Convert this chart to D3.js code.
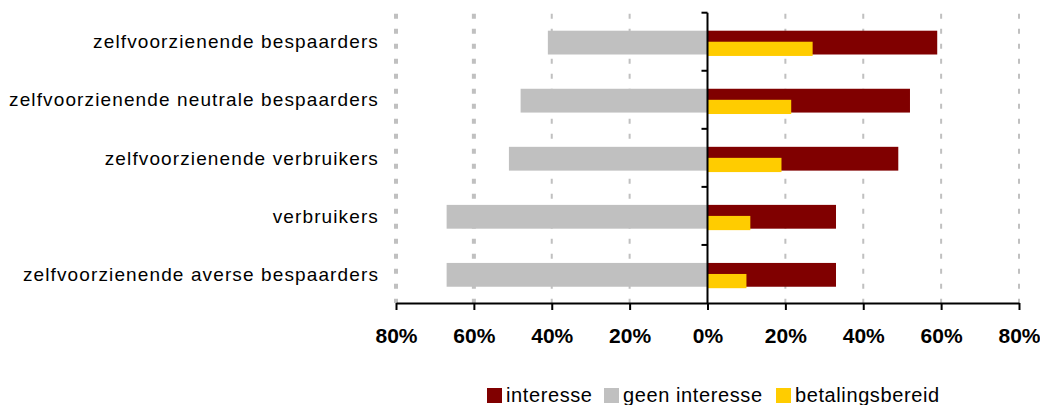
<!DOCTYPE html>
<html>
<head>
<meta charset="utf-8">
<script src="https://cdn.jsdelivr.net/npm/d3@7"></script>
<style>
  html, body { margin: 0; padding: 0; background: #fff; }
  svg { display: block; font-family: "Liberation Sans", Arial, sans-serif; }
</style>
</head>
<body>
<svg id="chart" width="1040" height="405"></svg>
<script>
// Segments, top to bottom
const categories = [
  "zelfvoorzienende bespaarders",
  "zelfvoorzienende neutrale bespaarders",
  "zelfvoorzienende verbruikers",
  "verbruikers",
  "zelfvoorzienende averse bespaarders"
];
// Shares in percent
const interesse      = [59, 52, 49, 33, 33];
const geenInteresse  = [41, 48, 51, 67, 67];
const betalingsbereid = [27, 21.5, 19, 11, 10];
const tickValues = [-80, -60, -40, -20, 0, 20, 40, 60, 80];
const seriesNames = ["interesse", "geen interesse", "betalingsbereid"];
const colors = { interesse: "#800000", geen: "#c0c0c0", betaling: "#ffcc00" };

const svg = d3.select("#chart");

const x = d3.scaleLinear().domain([-80, 80]).range([396, 1019]);
const y = d3.scaleBand().domain(categories).range([12.7, 303]).padding(0);
const bw = y.bandwidth();

// Dashed vertical gridlines
svg.append("g")
  .selectAll("line")
  .data(tickValues.filter(d => d !== 0))
  .join("line")
  .attr("x1", d => x(d)).attr("x2", d => x(d))
  .attr("y1", 12.7).attr("y2", 303)
  .attr("stroke", "#c0c0c0")
  .attr("stroke-width", d => d <= -60 ? 4 : 2)
  .attr("stroke-dasharray", "5,10")
  .attr("stroke-dashoffset", -1);

const rows = categories.map((c, i) => ({
  cat: c, pos: interesse[i], neg: geenInteresse[i], pay: betalingsbereid[i]
}));

// No-interest bars to the left of zero
svg.append("g").selectAll("rect")
  .data(rows).join("rect")
  .attr("x", d => x(-d.neg))
  .attr("width", d => x(0) - x(-d.neg))
  .attr("y", d => y(d.cat) + bw * 0.31)
  .attr("height", bw * 0.41)
  .attr("fill", colors.geen);

// Interest bars to the right of zero
svg.append("g").selectAll("rect")
  .data(rows).join("rect")
  .attr("x", x(0))
  .attr("width", d => x(d.pos) - x(0))
  .attr("y", d => y(d.cat) + bw * 0.31)
  .attr("height", bw * 0.41)
  .attr("fill", colors.interesse);

// Willingness-to-pay bars, overlaid on the lower half
svg.append("g").selectAll("rect")
  .data(rows).join("rect")
  .attr("x", x(0))
  .attr("width", d => x(d.pay) - x(0))
  .attr("y", d => y(d.cat) + bw * 0.5)
  .attr("height", bw * 0.245)
  .attr("fill", colors.betaling);

// Bottom axis
const xAxis = d3.axisBottom(x)
  .tickValues(tickValues)
  .tickFormat(d => Math.abs(d) + "%")
  .tickSizeInner(7).tickSizeOuter(0).tickPadding(10);
const gx = svg.append("g").attr("transform", "translate(0,303)").call(xAxis);
gx.select(".domain").attr("stroke", "#000").attr("stroke-width", 2);
gx.selectAll(".tick line").attr("stroke", "#000").attr("stroke-width", 2);
gx.selectAll(".tick text")
  .attr("y", 40).attr("dy", null)
  .attr("font-size", 21).attr("font-weight", "bold").attr("fill", "#000")
  .attr("font-family", "Liberation Sans, Arial, sans-serif");

// Vertical axis at zero with band boundary ticks
const gy = svg.append("g");
gy.append("line")
  .attr("x1", x(0)).attr("x2", x(0))
  .attr("y1", 12.7).attr("y2", 303)
  .attr("stroke", "#000").attr("stroke-width", 2);
gy.selectAll("line.bt")
  .data(categories.map(c => y(c)))
  .join("line").attr("class", "bt")
  .attr("x1", x(0) - 6).attr("x2", x(0))
  .attr("y1", d => d).attr("y2", d => d)
  .attr("stroke", "#000").attr("stroke-width", 2);

// Category labels
svg.append("g").selectAll("text")
  .data(categories).join("text")
  .attr("x", 379)
  .attr("y", d => y(d) + bw / 2)
  .attr("dy", "0.35em")
  .attr("text-anchor", "end")
  .attr("font-size", 19)
  .attr("letter-spacing", 1.12)
  .attr("fill", "#000")
  .text(d => d);

// Legend
const legendItems = [
  { name: seriesNames[0], color: colors.interesse, x: 487 },
  { name: seriesNames[1], color: colors.geen, x: 604 },
  { name: seriesNames[2], color: colors.betaling, x: 776 }
];
const lg = svg.append("g").selectAll("g")
  .data(legendItems).join("g")
  .attr("transform", d => `translate(${d.x},0)`);
lg.append("rect")
  .attr("x", 0).attr("y", 388).attr("width", 15).attr("height", 15)
  .attr("fill", d => d.color);
lg.append("text")
  .attr("x", 19).attr("y", 402)
  .attr("font-size", 20).attr("letter-spacing", 0.6).attr("fill", "#000")
  .text(d => d.name);
</script>
</body>
</html>
